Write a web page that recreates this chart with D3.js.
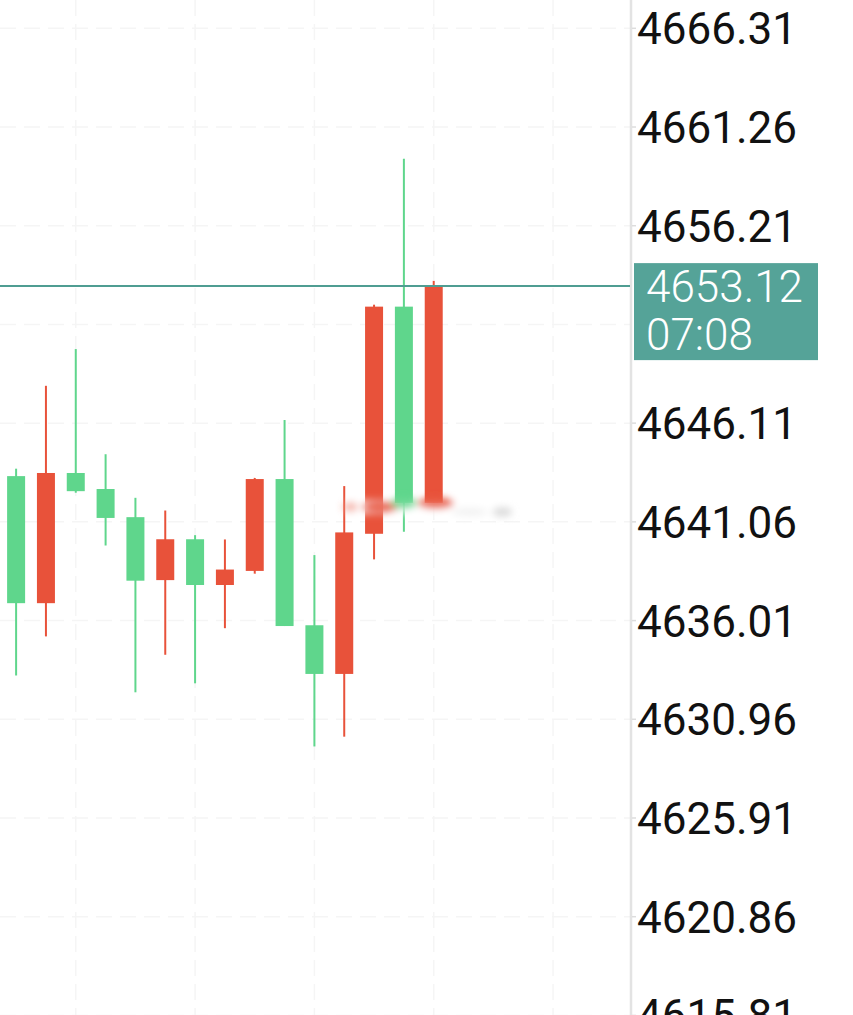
<!DOCTYPE html>
<html>
<head>
<meta charset="utf-8">
<script src="https://cdn.jsdelivr.net/npm/d3@7"></script>
<style>
  html, body { margin: 0; padding: 0; background: #fff; }
  svg { display: block; }
</style>
</head>
<body>
<div id="kline_chart"></div>
<script>
var vWidth = 853;
var vHeight = 1015;
var plotRight = 630;

// candle data (oldest -> newest)
var candleIndex = [0, 1, 2, 3, 4, 5, 6, 7, 8, 9, 10, 11, 12, 13, 14];
var openVals  = [4643.40, 4636.90, 4643.56, 4642.74, 4641.30, 4638.08, 4640.17, 4637.83, 4638.55, 4643.25, 4635.77, 4633.28, 4640.45, 4652.07, 4642.03];
var highVals  = [4643.78, 4648.02, 4649.90, 4644.52, 4642.29, 4641.64, 4640.38, 4640.16, 4643.31, 4646.27, 4639.36, 4642.89, 4652.17, 4659.63, 4653.39];
var lowVals   = [4633.20, 4635.20, 4642.55, 4639.85, 4632.34, 4634.26, 4632.80, 4635.62, 4638.41, 4635.73, 4629.57, 4630.07, 4639.14, 4640.56, 4642.03];
var closeVals = [4636.90, 4643.56, 4642.63, 4641.26, 4638.05, 4640.17, 4637.83, 4638.62, 4643.25, 4635.73, 4633.28, 4640.52, 4652.07, 4642.03, 4653.12];

// price axis labels
var tickLabels = ["4666.31", "4661.26", "4656.21", "4651.16", "4646.11", "4641.06", "4636.01", "4630.96", "4625.91", "4620.86", "4615.81"];
var gridIndex = [2, 6, 10, 14, 18];
var lastPrice = 4653.12;
var countdown = "07:08";

var upColor = "#e8523a";
var downColor = "#5fd68c";

var svg = d3.select("#kline_chart")
  .append("svg")
  .attr("width", vWidth)
  .attr("height", vHeight);

var defs = svg.append("defs");
defs.append("filter").attr("id", "smear")
  .attr("x", "-50%").attr("y", "-200%").attr("width", "200%").attr("height", "500%")
  .append("feGaussianBlur").attr("stdDeviation", 3.5);

var x = d3.scaleLinear().domain([-0.54, 20.58]).range([0, plotRight]);
var y = d3.scaleLinear().domain([4666.31, 4620.86]).range([28.3, 916.7]);

// grid (very faint)
var grid = svg.append("g").attr("class", "grid");
grid.selectAll("line.h").data(tickLabels).enter().append("line")
  .attr("class", "h")
  .attr("x1", 0).attr("x2", plotRight)
  .attr("y1", d => y(+d)).attr("y2", d => y(+d))
  .attr("stroke", "#f5f5f5").attr("stroke-width", 1.5)
  .attr("stroke-dasharray", "16 8");
grid.selectAll("line.v").data(gridIndex).enter().append("line")
  .attr("class", "v")
  .attr("x1", d => x(d)).attr("x2", d => x(d))
  .attr("y1", 0).attr("y2", vHeight)
  .attr("stroke", "#f5f5f5").attr("stroke-width", 1.5)
  .attr("stroke-dasharray", "16 8");

// candles
var candles = candleIndex.map(function (i) {
  return { i: i, o: openVals[i], h: highVals[i], l: lowVals[i], c: closeVals[i] };
});
var bodyW = 18;
var g = svg.append("g").attr("class", "candles");
var cg = g.selectAll("g").data(candles).enter().append("g");
cg.append("line")
  .attr("x1", d => x(d.i)).attr("x2", d => x(d.i))
  .attr("y1", d => y(d.h)).attr("y2", d => y(d.l))
  .attr("stroke", d => d.c >= d.o ? upColor : downColor)
  .attr("stroke-width", 2);
cg.append("rect")
  .attr("x", d => x(d.i) - bodyW / 2)
  .attr("width", bodyW)
  .attr("y", d => y(Math.max(d.o, d.c)))
  .attr("height", d => Math.max(1.5, Math.abs(y(d.o) - y(d.c))))
  .attr("fill", d => d.c >= d.o ? upColor : downColor);

// blurred watermark smudge across the last candles
var smear = svg.append("g").attr("filter", "url(#smear)");
smear.append("rect").attr("x", x(11.1)).attr("y", 500).attr("width", x(16.3) - x(11.1)).attr("height", 14)
  .attr("fill", "#ffffff").attr("opacity", 0.75);
smear.append("ellipse").attr("cx", x(12) + 6).attr("cy", 507).attr("rx", 18).attr("ry", 6)
  .attr("fill", upColor).attr("opacity", 0.85);
smear.append("ellipse").attr("cx", x(13)).attr("cy", 503).attr("rx", 13).attr("ry", 6)
  .attr("fill", downColor).attr("opacity", 0.85);
smear.append("ellipse").attr("cx", x(14) + 2).attr("cy", 503).attr("rx", 18).attr("ry", 6)
  .attr("fill", upColor).attr("opacity", 0.85);
smear.append("ellipse").attr("cx", x(11.2)).attr("cy", 507).attr("rx", 8).attr("ry", 5)
  .attr("fill", upColor).attr("opacity", 0.4);
smear.append("ellipse").attr("cx", x(16.3)).attr("cy", 512).attr("rx", 10).attr("ry", 5)
  .attr("fill", "#d5d5d5").attr("opacity", 0.8);
smear.append("ellipse").attr("cx", x(15.2)).attr("cy", 512).attr("rx", 18).attr("ry", 4)
  .attr("fill", "#ededed").attr("opacity", 0.7);

// axis separator
svg.append("line")
  .attr("x1", plotRight + 1).attr("x2", plotRight + 1)
  .attr("y1", 0).attr("y2", vHeight)
  .attr("stroke", "#e3e3e3").attr("stroke-width", 2.5);

var axis = svg.append("g").attr("class", "price-axis");
var shown = tickLabels.filter(d => d !== "4651.16");
axis.selectAll("line").data(shown).enter().append("line")
  .attr("x1", plotRight + 2).attr("x2", plotRight + 6)
  .attr("y1", d => y(+d)).attr("y2", d => y(+d))
  .attr("stroke", "#dddddd").attr("stroke-width", 1.5);
axis.selectAll("text").data(shown).enter().append("text")
  .attr("x", 637)
  .attr("y", d => y(+d) + 16)
  .attr("font-family", "Roboto, sans-serif")
  .attr("font-size", 44)
  .attr("fill", "#111111")
  .text(d => d);

// last price line + label
var py = y(lastPrice);
svg.append("line")
  .attr("x1", 0).attr("x2", plotRight)
  .attr("y1", py).attr("y2", py)
  .attr("stroke", "#4f9d92").attr("stroke-width", 2);

var tag = svg.append("g").attr("class", "last-price");
tag.append("rect")
  .attr("x", 634).attr("y", py - 23)
  .attr("width", 184).attr("height", 97)
  .attr("fill", "#55a398");
tag.append("text")
  .attr("x", 646).attr("y", py + 16)
  .attr("font-family", "Roboto, sans-serif")
  .attr("font-weight", 300)
  .attr("font-size", 44)
  .attr("fill", "#ffffff")
  .text(lastPrice.toFixed(2));
tag.append("text")
  .attr("x", 646).attr("y", py + 64)
  .attr("font-family", "Roboto, sans-serif")
  .attr("font-weight", 300)
  .attr("font-size", 44)
  .attr("fill", "#ffffff")
  .text(countdown);
</script>
</body>
</html>
